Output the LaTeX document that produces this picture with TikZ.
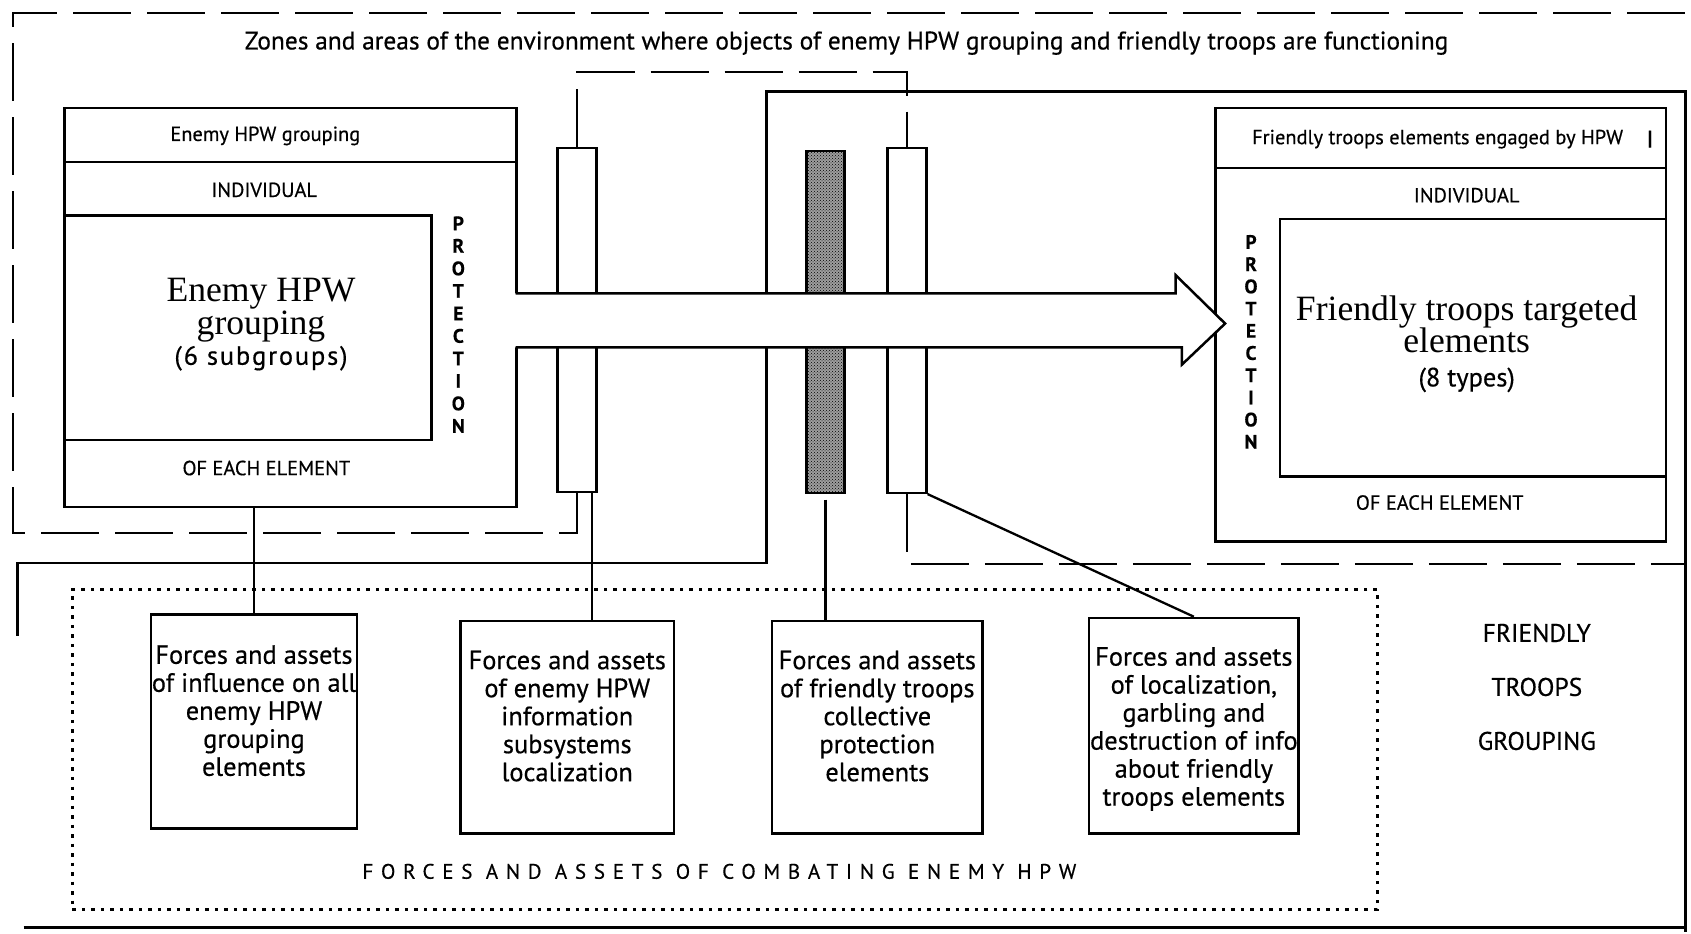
\documentclass[tikz,border=0pt]{standalone}
\usepackage{fontspec}
\setmainfont[FakeBold=0.5]{PT Sans}
\newfontfamily\bigserif{Liberation Serif}
\newfontfamily\widesans[LetterSpace=37,FakeBold=0.5]{PT Sans}
\usetikzlibrary{fit,calc,patterns}
\newcommand\setfs[2]{\fontsize{#1}{#2}\selectfont}

\begin{document}
\begin{tikzpicture}[x=1.0784pt,y=-1.0784pt,
  frame/.style={draw, line width=2.5pt, inner sep=0pt},
  conn/.style={draw, line width=2.3pt},
  envline/.style={draw, line width=2.4pt, dash pattern=on 58pt off 16pt},
  zone/.style={draw, line width=2.8pt, line join=miter},
  dotbox/.style={draw, line width=3pt, dash pattern=on 3.5pt off 6pt, inner sep=0pt},
  txt/.style={inner sep=0pt, align=center},
  small/.style={txt, font=\setfs{26.4}{28}},
  head/.style={txt, font=\setfs{20.4}{22}},
  prot/.style={txt, font=\bfseries\setfs{19.5}{#1}},
  core/.style={txt, font=\bigserif\setfs{35.6}{32.4}},
]
\useasboundingbox (0,0) rectangle (1568,866);

% title of the environment zone
\node[txt, font=\setfs{25.4}{27}] (title) at (785,40)
  {Zones and areas of the environment where objects of enemy HPW grouping and friendly troops are functioning};

% protection bars and the environment zone outline (dashed)
\node[frame, fit={(517,137) (553,456)}] (bar1) {};
\node[frame, fit={(748,140) (783,457)}, preaction={fill=black!38}, pattern=crosshatch dots] (bar2) {};
\node[frame, fit={(823,137) (859,457)}] (bar3) {};
\draw[envline] (bar1.south) -- ++(0,37) -| (12,12) -- (1566,12);
\draw[envline] (bar1.north) -- ++(0,-69) -| (bar3.north);
\draw[envline] (bar3.south) -- ++(0,65) -- ++(722,0);

% friendly troops grouping zone (solid)
\draw[zone] (711,272) -- (711,85) -- (1563,85) -- (1563,864);
\draw[zone] (711,322) -- (711,522) -- (16,522) -- (16,590);
\draw[zone] (22,860) -- (1563,860);

% enemy HPW grouping
\node[frame, fit={(60,100) (479,470)}] (enemy) {};
\node[frame, fit={(60,100) (479,150)}] (enemyhead) {};
\node[frame, fit={(60,200) (400,408)}] (enemycore) {};
\node[head] (enemytitle) at (246,126) {Enemy HPW grouping};
\node[head] (enemyind) at (245,176) {INDIVIDUAL};
\node[head] (enemyeach) at (247,434) {OF EACH ELEMENT};
\node[prot=22.5] (enemyprot) at (425,301) {P\\R\\O\\T\\E\\C\\T\\I\\O\\N};
\node[core] (enemytext) at (242,301)
  {Enemy HPW\\grouping\\[-2pt]{\rmfamily\addfontfeature{LetterSpace=7}\setfs{26.4}{28}(6 subgroups)}};

% friendly troops elements engaged by HPW
\node[frame, fit={(1127,100) (1545,502)}] (friend) {};
\node[frame, fit={(1127,100) (1545,156)}] (friendhead) {};
\node[frame, fit={(1187,203) (1545,442)}] (friendcore) {};
\node[head] (friendtitle) at (1333,129) {Friendly troops elements engaged by HPW};
\node[head, font=\bfseries\setfs{20.4}{22}] (friendmark) at (1530,129) {|};
\node[head] (friendind) at (1360,181) {INDIVIDUAL};
\node[head] (friendeach) at (1335,466) {OF EACH ELEMENT};
\node[prot=22.2] (friendprot) at (1160,317) {P\\R\\O\\T\\E\\C\\T\\I\\O\\N};
\node[core] (friendtext) at (1360,319)
  {Friendly troops targeted\\elements\\[1pt]{\rmfamily\setfs{26.4}{28}(8 types)}};

% impact arrow from the enemy grouping to the friendly elements
\fill[white] (476,272) -- (1090,272) -- (1090,255) -- (1136,300) -- (1096,338) -- (1096,322) -- (476,322) -- cycle;
\draw[line width=2.5pt, line join=miter] (478,272) -- (1090,272) -- (1090,255)
  -- (1136,300) -- (1096,338) -- (1096,322) -- (478,322);

% forces and assets of combating enemy HPW
\node[dotbox, fit={(67,547) (1277,843)}] (combat) {};
\node[txt, font=\widesans\setfs{21}{22}] (combattitle) at (667,808) {FORCES AND ASSETS OF COMBATING ENEMY HPW};

\node[frame, fit={(140,570) (331,768)}] (b1) {};
\node[frame, fit={(427,576) (625,773)}] (b2) {};
\node[frame, fit={(716,576) (911,773)}] (b3) {};
\node[frame, fit={(1010,573) (1204,773)}] (b4) {};
\node[small] (t1) at (235.5,659) {Forces and assets\\of influence on all\\enemy HPW\\grouping\\elements};
\node[small] (t2) at (526,664) {Forces and assets\\of enemy HPW\\information\\subsystems\\localization};
\node[small] (t3) at (813.5,664) {Forces and assets\\of friendly troops\\collective\\protection\\elements};
\node[small] (t4) at (1107,676) {Forces and assets\\of localization,\\garbling and\\destruction of info\\about friendly\\troops elements};

% links from the zones to the forces and assets
\coordinate (bar1out) at ($(bar1.south)+(14,0)$);
\draw[conn] (b1.north |- enemy.south) -- (b1.north);
\draw[conn] (bar1out) -- (bar1out |- b2.north);
\draw[conn] (bar2.south) ++(0,5) -- (bar2.south |- b3.north);
\draw[conn] (bar3.south east) -- (b4.north);

% friendly troops grouping label
\node[txt, font=\setfs{25.5}{54}] (grouping) at (1425,637) {FRIENDLY\\TROOPS\\GROUPING};
\end{tikzpicture}
\end{document}
